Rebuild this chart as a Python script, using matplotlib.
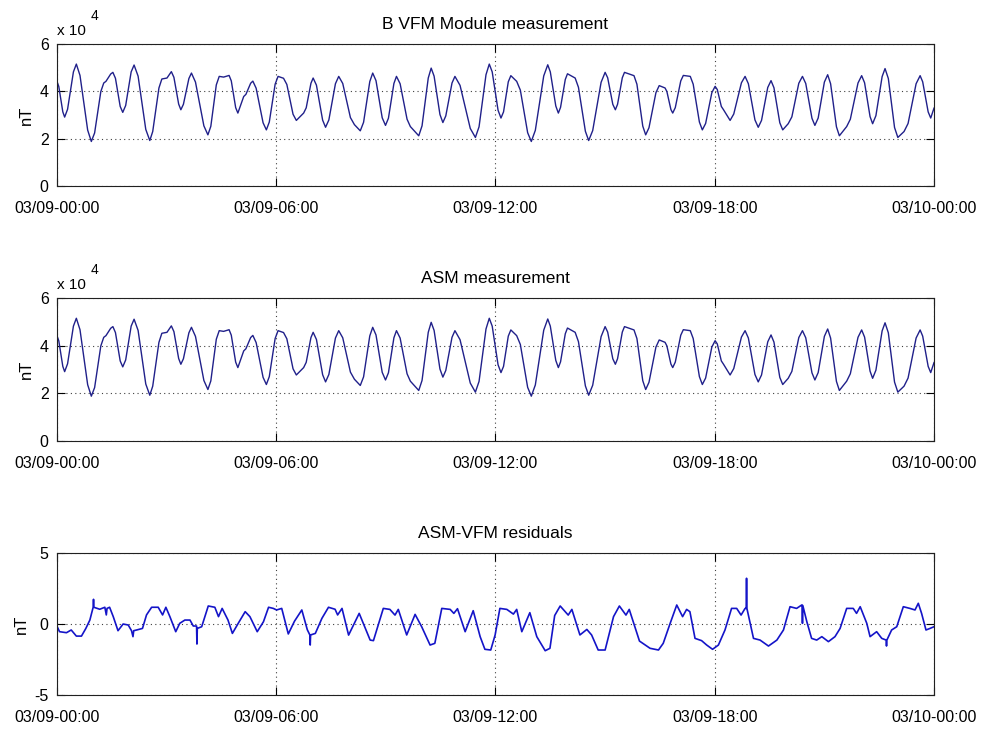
import datetime as dt
import matplotlib
matplotlib.use('Agg')
import matplotlib.pyplot as plt
import matplotlib.dates as mdates

plt.rcParams['font.family'] = ['Liberation Sans', 'DejaVu Sans']
plt.rcParams['axes.unicode_minus'] = False

start = dt.datetime(2014, 3, 9)

# B VFM module (hours after 03/09-00:00, units of 1e4 nT)
vfm_hours = [0.00, 0.05, 0.16, 0.21, 0.29, 0.45, 0.53, 0.63, 0.84, 0.94, 1.03, 1.20,
             1.28, 1.34, 1.47, 1.53, 1.60, 1.73, 1.80, 1.88, 2.03, 2.11, 2.22, 2.43,
             2.54, 2.62, 2.79, 2.87, 3.01, 3.13, 3.20, 3.33, 3.39, 3.46, 3.61, 3.68,
             3.79, 4.02, 4.13, 4.21, 4.36, 4.44, 4.56, 4.71, 4.77, 4.89, 4.95, 5.11,
             5.17, 5.30, 5.36, 5.45, 5.64, 5.73, 5.81, 5.97, 6.05, 6.20, 6.29, 6.46,
             6.55, 6.75, 6.82, 6.95, 7.01, 7.10, 7.27, 7.35, 7.44, 7.62, 7.71, 7.82,
             8.03, 8.14, 8.30, 8.39, 8.56, 8.64, 8.73, 8.90, 8.99, 9.07, 9.22, 9.29,
             9.39, 9.58, 9.67, 9.90, 9.99, 10.16, 10.24, 10.32, 10.48, 10.56, 10.64, 10.81,
             10.89, 11.03, 11.31, 11.45, 11.55, 11.74, 11.83, 11.91, 12.07, 12.15, 12.22, 12.35,
             12.42, 12.58, 12.68, 12.88, 12.98, 13.09, 13.32, 13.43, 13.50, 13.65, 13.72, 13.78,
             13.91, 13.97, 14.18, 14.27, 14.46, 14.55, 14.66, 14.89, 15.00, 15.07, 15.21, 15.28,
             15.34, 15.47, 15.53, 15.79, 15.87, 16.03, 16.11, 16.20, 16.39, 16.48, 16.64, 16.69,
             16.80, 16.85, 16.92, 17.07, 17.14, 17.33, 17.41, 17.58, 17.66, 17.75, 17.92, 18.01,
             18.07, 18.18, 18.24, 18.42, 18.52, 18.73, 18.83, 18.92, 19.10, 19.19, 19.28, 19.45,
             19.54, 19.62, 19.78, 19.86, 20.01, 20.11, 20.30, 20.40, 20.49, 20.66, 20.74, 20.83,
             21.00, 21.09, 21.17, 21.33, 21.41, 21.61, 21.71, 21.92, 22.02, 22.10, 22.25, 22.32,
             22.41, 22.58, 22.66, 22.75, 22.92, 23.01, 23.18, 23.29, 23.51, 23.62, 23.69, 23.84,
             23.91, 24.00]
vfm_1e4 = [4.42, 4.20, 3.13, 2.91, 3.24, 4.82, 5.15, 4.67, 2.36, 1.88, 2.24, 3.99,
           4.35, 4.42, 4.73, 4.80, 4.55, 3.36, 3.11, 3.40, 4.82, 5.11, 4.64, 2.39,
           1.92, 2.30, 4.14, 4.52, 4.56, 4.83, 4.59, 3.46, 3.22, 3.45, 4.54, 4.77,
           4.39, 2.54, 2.16, 2.52, 4.27, 4.63, 4.60, 4.67, 4.44, 3.31, 3.08, 3.78,
           3.87, 4.34, 4.43, 4.13, 2.67, 2.37, 2.70, 4.30, 4.63, 4.55, 4.29, 3.03,
           2.77, 3.08, 3.30, 4.34, 4.56, 4.26, 2.78, 2.48, 2.79, 4.32, 4.63, 4.33,
           2.89, 2.59, 2.33, 2.69, 4.41, 4.77, 4.45, 2.88, 2.56, 2.86, 4.33, 4.63,
           4.32, 2.82, 2.51, 2.12, 2.54, 4.56, 4.98, 4.64, 3.02, 2.68, 2.96, 4.35,
           4.63, 4.25, 2.43, 2.05, 2.50, 4.70, 5.15, 4.82, 3.20, 2.87, 3.13, 4.40,
           4.66, 4.42, 4.05, 2.25, 1.88, 2.35, 4.65, 5.12, 4.82, 3.38, 3.08, 3.32,
           4.50, 4.74, 4.56, 4.17, 2.31, 1.92, 2.34, 4.38, 4.80, 4.57, 3.45, 3.22,
           3.45, 4.57, 4.80, 4.66, 4.30, 2.53, 2.16, 2.46, 3.94, 4.24, 4.14, 3.99,
           3.23, 3.08, 3.31, 4.44, 4.67, 4.63, 4.30, 2.70, 2.37, 2.64, 3.94, 4.21,
           4.07, 3.36, 3.22, 2.77, 3.04, 4.36, 4.63, 4.32, 2.79, 2.48, 2.77, 4.16,
           4.45, 4.15, 2.67, 2.37, 2.63, 2.92, 4.34, 4.63, 4.33, 2.86, 2.56, 2.87,
           4.39, 4.70, 4.32, 2.50, 2.12, 2.51, 2.82, 4.35, 4.66, 4.36, 2.93, 2.63,
           2.97, 4.62, 4.96, 4.54, 2.47, 2.05, 2.30, 2.64, 4.32, 4.66, 4.40, 3.13,
           2.87, 3.29]

# ASM scalar field: same as the VFM module at this scale
asm_hours = vfm_hours
asm_1e4 = vfm_1e4

# ASM-VFM residuals (nT)
res_hours = [0.00, 0.07, 0.26, 0.39, 0.53, 0.67, 0.79, 0.90, 0.99, 1.00, 1.01, 1.17,
             1.31, 1.35, 1.37, 1.44, 1.54, 1.67, 1.81, 1.95, 2.04, 2.08, 2.10, 2.18,
             2.34, 2.45, 2.59, 2.77, 2.89, 2.98, 3.09, 3.25, 3.36, 3.50, 3.64, 3.73,
             3.82, 3.83, 3.84, 3.96, 4.14, 4.32, 4.42, 4.52, 4.68, 4.80, 4.96, 5.15,
             5.28, 5.48, 5.65, 5.79, 5.92, 6.01, 6.15, 6.33, 6.50, 6.70, 6.85, 6.92,
             6.93, 6.94, 7.07, 7.25, 7.43, 7.61, 7.68, 7.80, 7.98, 8.27, 8.57, 8.66,
             8.93, 9.11, 9.25, 9.34, 9.57, 9.80, 9.98, 10.21, 10.34, 10.53, 10.76, 10.86,
             10.96, 11.17, 11.39, 11.58, 11.71, 11.87, 11.99, 12.12, 12.31, 12.49, 12.58,
             12.72, 12.94, 13.13, 13.36, 13.49, 13.62, 13.77, 13.99, 14.09, 14.31, 14.50,
             14.63, 14.81, 15.00, 15.23, 15.39, 15.57, 15.66, 15.94, 16.23, 16.46, 16.59,
             16.78, 16.96, 17.12, 17.23, 17.32, 17.46, 17.64, 17.78, 17.94, 18.10, 18.28,
             18.46, 18.60, 18.72, 18.83, 18.86, 18.87, 18.88, 19.06, 19.24, 19.47, 19.70,
             19.88, 20.06, 20.24, 20.38, 20.39, 20.40, 20.41, 20.52, 20.65, 20.79, 20.93,
             21.11, 21.29, 21.43, 21.61, 21.79, 21.88, 21.98, 22.16, 22.25, 22.43, 22.57,
             22.69, 22.70, 22.71, 22.84, 22.98, 23.16, 23.34, 23.48, 23.57, 23.66, 23.78,
             23.89, 24.00]
res_nt = [-0.15, -0.54, -0.61, -0.42, -0.85, -0.85, -0.31, 0.28, 1.18, 1.74, 1.18, 1.04,
          1.18, 0.64, 1.10, 1.18, 0.52, -0.47, 0.00, -0.07, -0.47, -0.89, -0.47, -0.42,
          -0.31, 0.64, 1.18, 1.18, 0.64, 1.18, 0.52, -0.54, 0.05, 0.28, 0.28, -0.14,
          -0.14, -1.41, -0.31, -0.19, 1.27, 1.18, 0.52, 1.10, 0.28, -0.66, 0.05, 0.87,
          0.52, -0.54, 0.16, 1.18, 1.10, 0.99, 1.10, -0.70, 0.20, 0.99, -0.40, -0.77,
          -1.48, -0.77, -0.66, 0.40, 1.18, 1.04, 0.64, 1.10, -0.78, 0.75, -1.13, -1.17,
          1.10, 1.03, 0.63, 1.03, -0.77, 0.68, -0.19, -1.48, -1.36, 1.10, 1.03, 0.75,
          1.08, -0.54, 0.94, -0.89, -1.78, -1.83, -0.77, 1.10, 1.03, 0.70, 1.03,
          -0.54, 0.80, -0.89, -1.88, -1.71, 0.60, 1.27, 0.63, 1.03, -0.77, -0.38,
          -0.77, -1.83, -1.83, 0.52, 1.27, 0.63, 1.03, -1.20, -1.71, -1.83, -1.36,
          0.05, 1.34, 0.52, 1.03, 0.87, -1.01, -1.17, -1.48, -1.78, -1.48, -0.42,
          1.10, 1.10, 0.63, 1.10, 1.10, 3.22, 1.10, -1.01, -1.13, -1.55, -1.13,
          -0.42, 1.22, 1.10, 1.34, 1.34, 0.05, 1.30, 0.16, -1.01, -1.13, -0.89,
          -1.24, -0.89, -0.31, 1.10, 1.10, 0.75, 1.22, 0.05, -0.89, -0.54, -1.01,
          -1.13, -1.55, -1.13, -0.42, -0.19, 1.22, 1.10, 0.99, 1.46, 0.75, -0.42,
          -0.31, -0.19]

titles = ['B VFM Module measurement', 'ASM measurement', 'ASM-VFM residuals']


def to_dates(hours):
    return [start + dt.timedelta(hours=h) for h in hours]


fig = plt.figure(figsize=(9.84, 7.29), dpi=100)
boxes = [[0.0579, 0.7449, 0.8913, 0.1948],
         [0.0579, 0.3951, 0.8913, 0.1961],
         [0.0579, 0.0466, 0.8913, 0.1948]]
series = [(vfm_hours, [v * 1e4 for v in vfm_1e4]),
          (asm_hours, [v * 1e4 for v in asm_1e4]),
          (res_hours, res_nt)]

for i in range(3):
    ax = fig.add_axes(boxes[i])
    hrs, vals = series[i]
    if i < 2:
        ax.plot(to_dates(hrs), vals, color='#20208a', lw=1.0)
        ax.set_ylim(0, 6e4)
        ax.set_yticks([0, 2e4, 4e4, 6e4])
        ax.set_yticklabels(['0', '2', '4', '6'])
        ax.text(0.0, 1.045, 'x 10', transform=ax.transAxes, fontsize=11,
                ha='left', va='bottom')
        ax.text(0.038, 1.15, '4', transform=ax.transAxes, fontsize=10,
                ha='left', va='bottom')
    else:
        ax.plot(to_dates(hrs), vals, color='#1414c8', lw=1.2)
        ax.set_ylim(-5, 5)
        ax.set_yticks([-5, 0, 5])
    ax.set_xlim(start, start + dt.timedelta(hours=24))
    ax.xaxis.set_major_locator(mdates.HourLocator(byhour=[0, 6, 12, 18]))
    ax.xaxis.set_major_formatter(mdates.DateFormatter('%m/%d-%H:%M'))
    ax.grid(True, linestyle=(0, (1, 3)), color='#404040', lw=0.8)
    ax.tick_params(direction='in', length=6, top=True, right=True,
                   labelsize=11.5, width=0.8)
    ax.tick_params(axis='x', pad=11)
    ax.tick_params(axis='y', pad=6)
    ax.set_ylabel('nT', fontsize=12, labelpad=4)
    ax.set_title(titles[i], fontsize=12.5, pad=11)
    for s in ax.spines.values():
        s.set_linewidth(0.8)
        s.set_color('#202020')

fig.savefig('out.png', dpi=100)
